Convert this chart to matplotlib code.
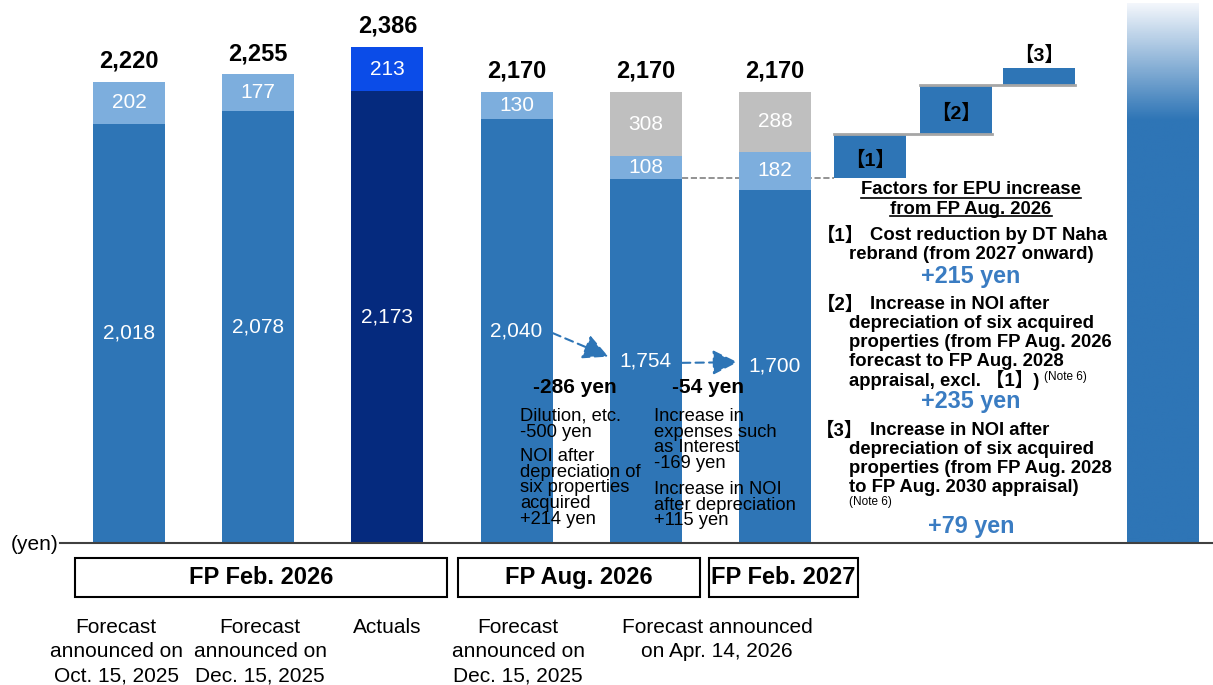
import matplotlib.pyplot as plt
import numpy as np
from matplotlib.patches import Rectangle
from matplotlib.colors import LinearSegmentedColormap
from matplotlib.transforms import Affine2D

plt.rcParams['font.family'] = ['Liberation Sans', 'Noto Sans CJK JP', 'DejaVu Sans']

# --- data ---
base_vals = [2018, 2078, 2173, 2040, 1754, 1700]
upper_vals = [202, 177, 213, 130, 108, 182]
gray_vals = [0, 0, 0, 0, 308, 288]
totals = [2220, 2255, 2386, 2170, 2170, 2170]

step_names = ['【1】', '【2】', '【3】']
step_vals = [215, 235, 79]
step_start = 1755
final_val = 2600

groups = ['FP Feb. 2026', 'FP Aug. 2026', 'FP Feb. 2027']
cat_labels = ['Forecast\nannounced on\nOct. 15, 2025', 'Forecast\nannounced on\nDec. 15, 2025',
              'Actuals', 'Forecast\nannounced on\nDec. 15, 2025', 'Forecast announced\non Apr. 14, 2026']

# --- layout ---
W, H = 1213, 685
pos = np.arange(6)
step_pos = [5.735, 6.40, 7.04]
final_pos = 8.0
bw = 0.557

main_blue = '#2E75B6'
light_blue = '#7DAEDD'
base_cols = [main_blue, main_blue, '#052A7E', main_blue, main_blue, main_blue]
upper_cols = [light_blue, light_blue, '#0B4CE8', light_blue, light_blue, light_blue]
txt_blue = '#3A7CC2'

fig = plt.figure(figsize=(W / 100, H / 100), dpi=100)
ax = fig.add_axes([0, 0, 1, 1])
ax.set_xlim(-129 / 129.2, (W - 129) / 129.2)
ax.set_ylim((543 - H) / 0.2078, 543 / 0.2078)
ax.axis('off')
pix = Affine2D().scale(1 / W, -1 / H).translate(0, 1) + fig.transFigure

# stacked bars
ax.bar(pos, base_vals, bw, color=base_cols, zorder=2)
ax.bar(pos, upper_vals, bw, bottom=base_vals, color=upper_cols, zorder=2)
ax.bar(pos, gray_vals, bw, bottom=np.add(base_vals, upper_vals), color='#BFBFBF', zorder=2)

for i in range(6):
    ax.text(pos[i], base_vals[i] / 2, f'{base_vals[i]:,}', ha='center', va='center',
            color='white', fontsize=15, zorder=4)
    ax.text(pos[i], base_vals[i] + upper_vals[i] / 2, f'{upper_vals[i]:,}', ha='center',
            va='center', color='white', fontsize=15, zorder=4)
    if gray_vals[i]:
        ax.text(pos[i], base_vals[i] + upper_vals[i] + gray_vals[i] / 2, f'{gray_vals[i]:,}',
                ha='center', va='center', color='white', fontsize=15, zorder=4)
    ax.text(pos[i], totals[i] + 100, f'{totals[i]:,}', ha='center', va='center',
            fontsize=17, fontweight='bold', zorder=4)

# waterfall of EPU increase factors
bottoms = step_start + np.concatenate([[0], np.cumsum(step_vals)[:-1]])
ax.bar(step_pos, step_vals, bw, bottom=bottoms, color=main_blue, zorder=2)
ax.plot([pos[4] + bw / 2, step_pos[0] - bw / 2], [step_start] * 2, ls='--', color='#808080',
        lw=1.2, zorder=1)
for k in range(2):
    lvl = bottoms[k + 1]
    ax.plot([step_pos[k] - bw / 2, step_pos[k + 1] + bw / 2], [lvl, lvl], color='#A6A6A6',
            lw=2, zorder=3)
for k in range(2):
    ax.text(step_pos[k], bottoms[k] + step_vals[k] / 2 - 20, step_names[k], ha='center',
            va='center', fontsize=14, fontweight='bold', zorder=4)
ax.text(step_pos[2], bottoms[2] + step_vals[2] + 60, step_names[2], ha='center', va='center',
        fontsize=14, fontweight='bold', zorder=4)

# final gradient bar
fb = ax.bar([final_pos], [final_val], bw, color='none', zorder=2)[0]
yy = np.linspace(final_val, 0, 300)
frac = np.clip((final_val - yy) / (final_val - 2036), 0, 1)[:, None]
cmap = LinearSegmentedColormap.from_list('g', ['#F4F7FC', main_blue])
im = ax.imshow(frac, cmap=cmap, vmin=0, vmax=1, aspect='auto', zorder=2,
               extent=[final_pos - bw / 2, final_pos + bw / 2, 0, final_val])
im.set_clip_path(fb)

# change arrows
for a, b in [(3, 4), (4, 5)]:
    ax.annotate('', xy=(pos[b] - 0.29, base_vals[b] / 2 + 20),
                xytext=(pos[a] + 0.28, base_vals[a] / 2 - 10),
                arrowprops=dict(arrowstyle='-|>,head_length=0.7,head_width=0.35', color=main_blue,
                                lw=1.5, linestyle=(0, (4, 2.5)), mutation_scale=22,
                                shrinkA=0, shrinkB=0),
                zorder=4)

ax.text(575, 388, '-286 yen', transform=pix, ha='center', va='center', fontsize=15,
        fontweight='bold', zorder=5)
ax.text(708, 388, '-54 yen', transform=pix, ha='center', va='center', fontsize=15,
        fontweight='bold', zorder=5)
small = dict(transform=pix, ha='left', va='top', fontsize=13.2, linespacing=0.9, zorder=5)
ax.text(520, 408, 'Dilution, etc.\n-500 yen', **small)
ax.text(520, 448, 'NOI after\ndepreciation of\nsix properties\nacquired\n+214 yen', **small)
ax.text(654, 408, 'Increase in\nexpenses such\nas Interest\n-169 yen', **small)
ax.text(654, 481, 'Increase in NOI\nafter depreciation\n+115 yen', **small)

# baseline and axis unit
ax.plot([60, W], [543, 543], transform=pix, color='#404040', lw=1.5, zorder=5)
ax.text(58, 545, '(yen)', transform=pix, ha='right', va='center', fontsize=15)

# period boxes
boxes = [(75, 447), (458, 700), (709, 858)]
for (x0, x1), g in zip(boxes, groups):
    ax.add_patch(Rectangle((x0, 558), x1 - x0, 39, transform=pix, fill=False, ec='black', lw=1.5))
    ax.text((x0 + x1) / 2, 578, g, transform=pix, ha='center', va='center', fontsize=17,
            fontweight='bold')

lab_x = [116, 260, 387, 518, 717]
for x, t in zip(lab_x, cat_labels):
    ax.text(x, 618, t, transform=pix, ha='center', va='top', fontsize=15, linespacing=1.34)

# explanation panel
bold = dict(transform=pix, fontsize=13.3, fontweight='bold', va='center')
t1 = ax.text(971, 190, 'Factors for EPU increase', ha='center', **bold)
t2 = ax.text(971, 209, 'from FP Aug. 2026', ha='center', **bold)

items = [
    (236, ['Cost reduction by DT Naha', 'rebrand (from 2027 onward)'], 277, '+215 yen'),
    (305, ['Increase in NOI after', 'depreciation of six acquired', 'properties (from FP Aug. 2026',
           'forecast to FP Aug. 2028', 'appraisal, excl. 【1】)'], 402, '+235 yen'),
    (431, ['Increase in NOI after', 'depreciation of six acquired', 'properties (from FP Aug. 2028',
           'to FP Aug. 2030 appraisal)'], 527, '+79 yen'),
]
last_lines = []
for (y0, lines, yv, val), nm in zip(items, step_names):
    ax.text(840, y0, nm, ha='center', **bold)
    for j, ln in enumerate(lines):
        t = ax.text(870 if j == 0 else 849, y0 + j * 18.8, ln, ha='left', **bold)
    last_lines.append(t)
    ax.text(971, yv, val, transform=pix, ha='center', va='center', fontsize=16.8,
            fontweight='bold', color=txt_blue)
ax.text(849, 502, '(Note 6)', transform=pix, ha='left', va='center', fontsize=8.5)

fig.canvas.draw()
r = fig.canvas.get_renderer()
# note after item 2
bb = last_lines[1].get_window_extent(r)
ax.text(bb.x1 + 5, 377, '(Note 6)', transform=pix, ha='left', va='center', fontsize=8.5)

# underline the panel title
for t in (t1, t2):
    bb = t.get_window_extent(r)
    yb = bb.y0 + 1
    fig.add_artist(plt.Line2D([bb.x0 / W, bb.x1 / W], [yb / H, yb / H], color='black', lw=1.2,
                              transform=fig.transFigure))

fig.savefig('out.png', dpi=100)
